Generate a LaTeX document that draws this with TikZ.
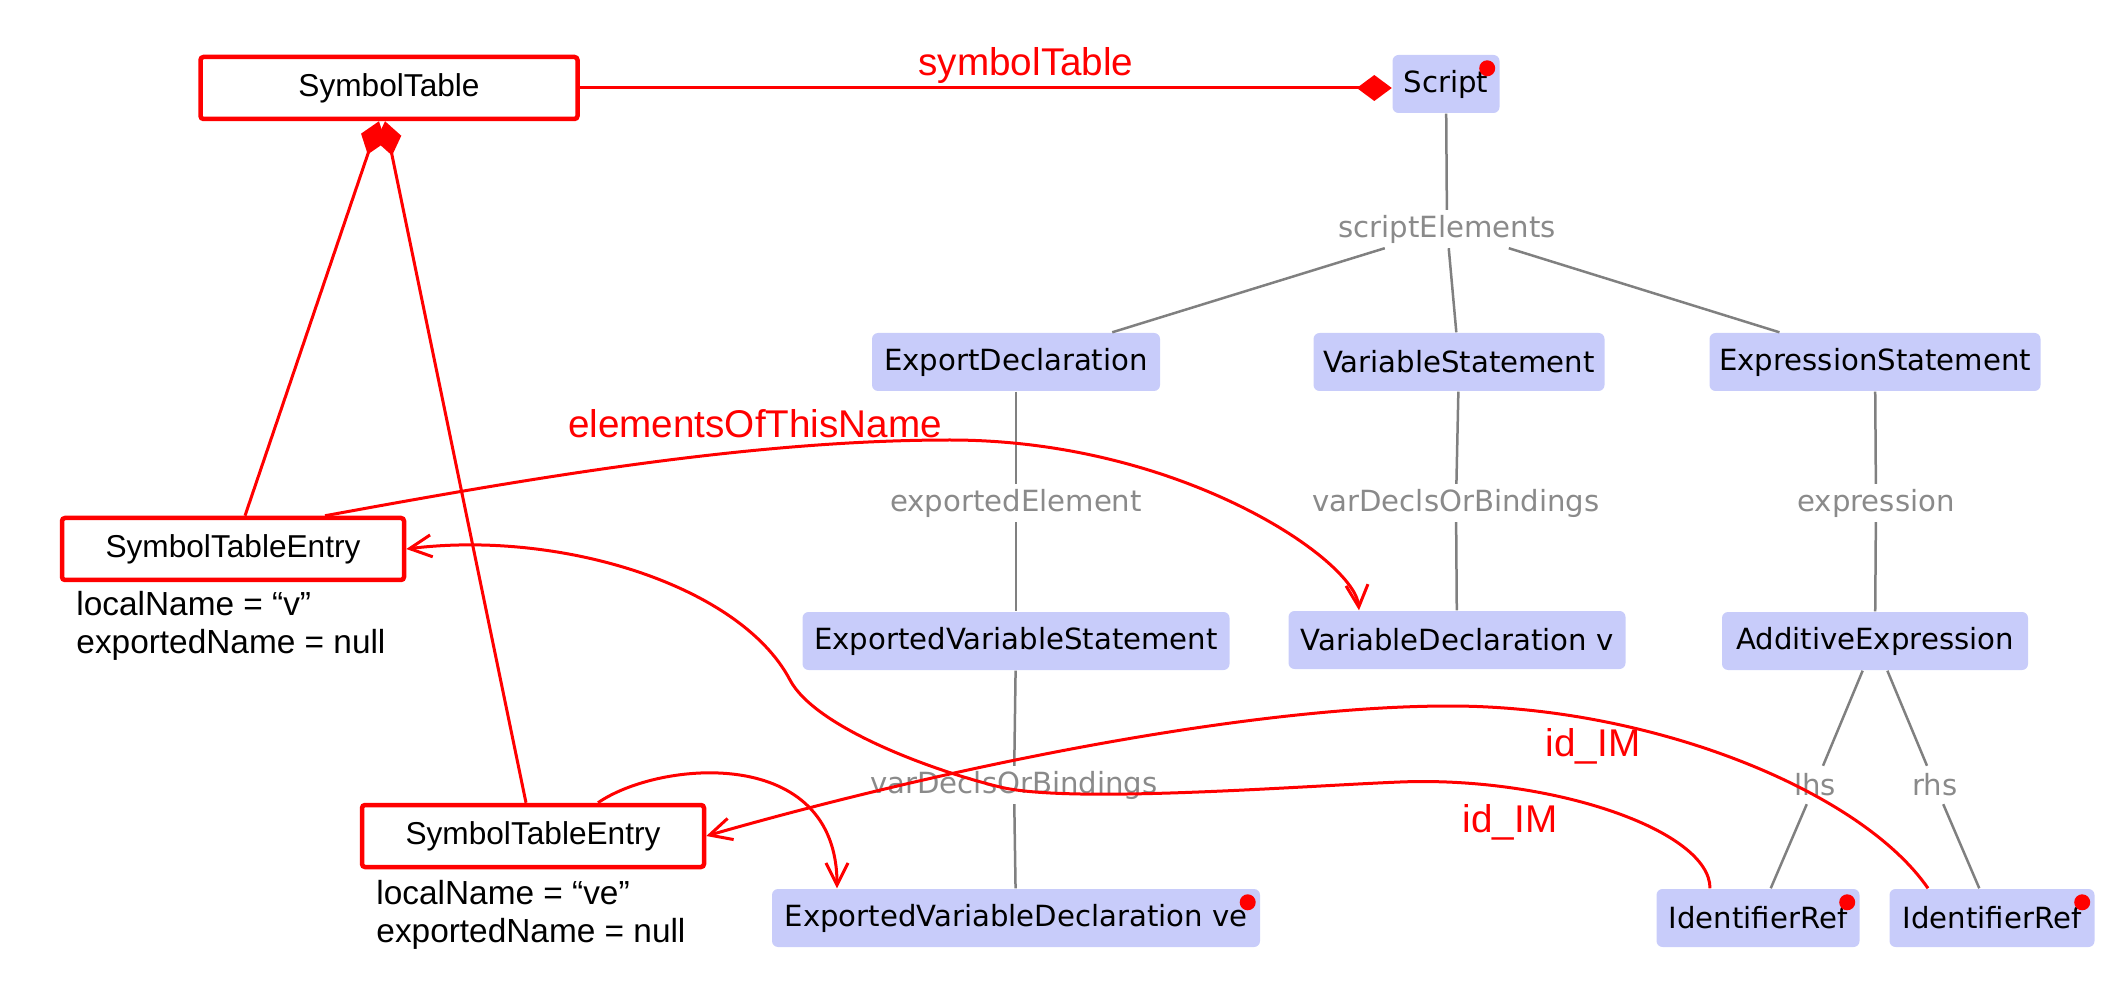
\documentclass[tikz,border=0pt]{standalone}
\usepackage{fontspec}
\setmainfont{Liberation Sans}
\newfontfamily\astfont{DejaVu Sans}
\usetikzlibrary{arrows.meta,calc}
\definecolor{stred}{HTML}{FF0000}
\definecolor{astfill}{HTML}{C8CCFA}
\definecolor{astline}{HTML}{808080}
\definecolor{astlbl}{HTML}{8A8A8A}
\tikzset{
  %% nodes
  stbox/.style  = {draw=stred, line width=0.45mm, rounded corners=0.3mm, fill=white,
                   minimum height=6.2mm, inner sep=0pt, font=\fontsize{9}{11}\selectfont},
  attr/.style   = {anchor=north west, inner sep=0pt, align=left,
                   font=\fontsize{9.5}{10.8}\selectfont},
  ast/.style    = {fill=astfill, rounded corners=0.6mm, minimum height=5.8mm,
                   inner sep=0pt, font=\astfont\fontsize{8.3}{10}\selectfont},
  role/.style   = {inner sep=0pt, minimum height=3.7mm, text=astlbl,
                   font=\astfont\fontsize{8.3}{10}\selectfont},
  %% connectors
  tree/.style   = {draw=astline, line width=0.25mm},
  redline/.style= {draw=stred, line width=0.3mm},
  comp/.style   = {{Diamond[length=3.5mm, width=2.6mm]}-, redline},
  ref/.style    = {-{Straight Barb[length=2.2mm, width=2.2mm]}, redline},
  %% annotations
  reflbl/.style = {text=stred, inner sep=0pt, font=\fontsize{11}{13}\selectfont},
}

\begin{document}
\begin{tikzpicture}[x=0.1mm, y=-0.1mm]
\useasboundingbox (0,0) rectangle (2128,984);

%% ============ symbol table side ============
\node[stbox, minimum width=37.7mm] (symtab) at (389,88) {SymbolTable};
\node[stbox, minimum width=34.2mm] (ste1) at (233,549) {SymbolTableEntry};
\node[stbox, minimum width=34.2mm] (ste2) at (533,836) {SymbolTableEntry};
\node[attr] (ste1attr) at ($(ste1.south west)+(16,8)$) {localName = “v”\\exportedName = null};
\node[attr] (ste2attr) at ($(ste2.south west)+(16,10)$) {localName = “ve”\\exportedName = null};

%% ============ AST ============
\node[ast, minimum width=10.7mm] (script)   at (1446,84)  {Script};
\node[ast, minimum width=28.8mm] (expdecl)  at (1016,362) {ExportDeclaration};
\node[ast, minimum width=29.1mm] (varstmt)  at (1459,362) {VariableStatement};
\node[ast, minimum width=33.1mm] (exprstmt) at (1875,362) {ExpressionStatement};
\node[ast, minimum width=42.7mm] (evstmt)   at (1016,641) {ExportedVariableStatement};
\node[ast, minimum width=33.7mm] (vdecl)    at (1457,640) {VariableDeclaration v};
\node[ast, minimum width=30.6mm] (addexpr)  at (1875,641) {AdditiveExpression};
\node[ast, minimum width=48.8mm] (evdecl)   at (1016,918) {ExportedVariableDeclaration ve};
\node[ast, minimum width=20.3mm] (idref1)   at (1758,918) {IdentifierRef};
\node[ast, minimum width=20.5mm] (idref2)   at (1992,918) {IdentifierRef};
\foreach \n in {script,evdecl,idref1,idref2}
  \fill[stred] ($(\n.north east)+(-13,14)$) circle (0.8mm);

\node[role] (lblse)  at (1447,229) {scriptElements};
\node[role] (lblee)  at (1016,503) {exportedElement};
\node[role] (lblvb1) at (1456,503) {varDeclsOrBindings};
\node[role] (lblex)  at (1876,503) {expression};
\node[role] (lblvb2) at (1014,785) {varDeclsOrBindings};
\node[role] (lbllhs) at (1815,785) {lhs};
\node[role] (lblrhs) at (1935,785) {rhs};

\draw[tree] (script) -- (lblse);
\foreach \c in {expdecl,varstmt,exprstmt}
  \draw[tree] (lblse) -- (\c);
\draw[tree] (expdecl) -- (lblee) -- (evstmt);
\draw[tree] (varstmt) -- (lblvb1) -- (vdecl);
\draw[tree] (exprstmt) -- (lblex) -- (addexpr);
\draw[tree] (evstmt) -- (lblvb2) -- (evdecl);
\draw[tree] (addexpr) -- (lbllhs) -- (idref1);
\draw[tree] (addexpr) -- (lblrhs) -- (idref2);

%% ============ red links ============
\draw[redline, -{Diamond[length=3.5mm, width=2.6mm]}] (symtab.east) -- (symtab.east -| script.west);
\node[reflbl] (lblsym) at (1026,66) {symbolTable};
\draw[comp] ($(symtab.south)+(-10,0)$) -- ($(ste1.north)+(12,0)$);
\draw[comp] ($(symtab.south)+(-4,0)$) -- ($(ste2.north)+(-7,0)$);

\draw[ref] ($(ste1.north)+(92,0)$) .. controls (525,479) and (750,440) .. (950,440)
  .. controls (1180,440) and (1355,560) .. ($(vdecl.north)+(-98,0)$);
\node[reflbl] (lbleotn) at (755,424) {elementsOfThisName};

\draw[ref] ($(idref1.north)+(-48,0)$) .. controls (1710,830) and (1550,776) .. (1400,782)
  .. controls (1300,786) and (1070,804) .. (1000,787)
  .. controls (930,770) and (815,727) .. (790,680)
  .. controls (740,585) and (560,530) .. (ste1.east);
\node[reflbl] (lblid2) at (1510,822) {id\_IM};

\draw[ref] ($(idref2.north)+(-64,0)$) .. controls (1860,790) and (1650,706) .. (1450,706)
  .. controls (1250,706) and (950,766) .. (ste2.east);
\node[reflbl] (lblid1) at (1593,746) {id\_IM};

\draw[ref] ($(ste2.north)+(65,0)$) .. controls (660,760) and (837,745) .. ($(evdecl.north)+(-179,0)$);

\end{tikzpicture}
\end{document}
